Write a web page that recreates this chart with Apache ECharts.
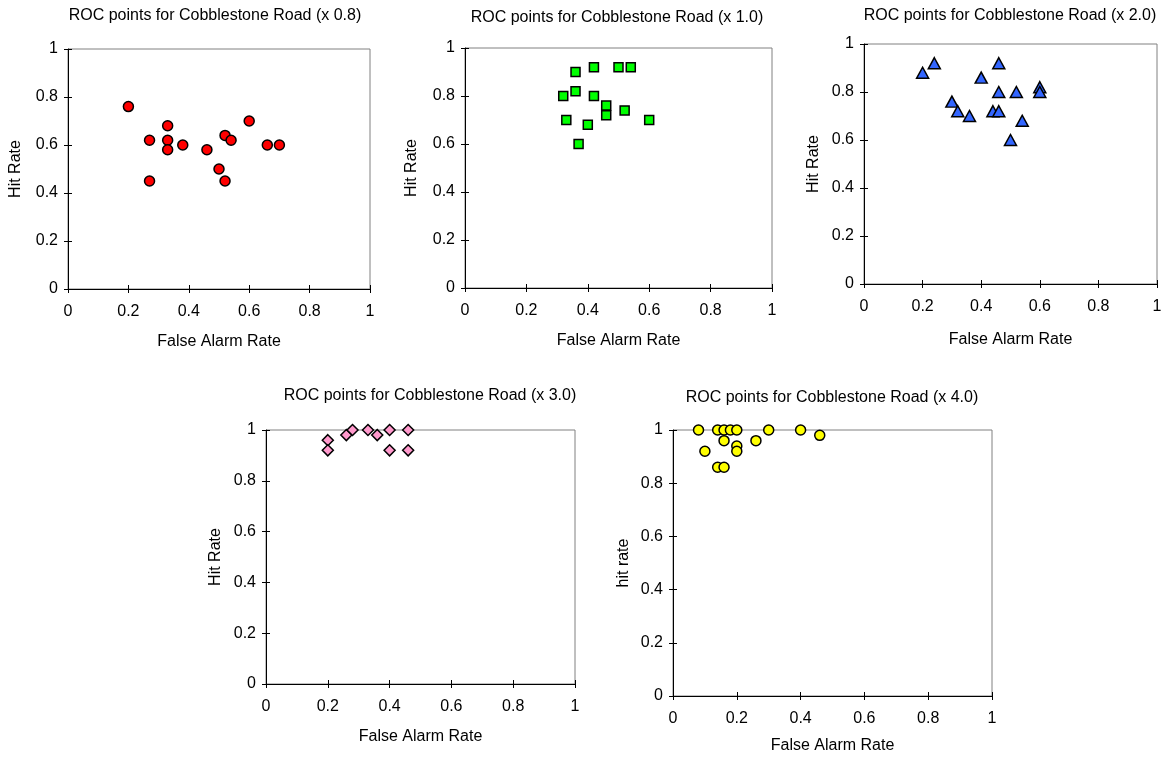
<!DOCTYPE html>
<html>
<head>
<meta charset="utf-8">
<script src="https://cdn.jsdelivr.net/npm/echarts@6/dist/echarts.min.js"></script>
<style>
html,body{margin:0;padding:0;background:#fff;}
#c{width:1172px;height:759px;}
</style>
</head>
<body>
<div id="c"></div>
<script>
// ---- data ----
const titles = [
  'ROC points for Cobblestone Road (x 0.8)',
  'ROC points for Cobblestone Road (x 1.0)',
  'ROC points for Cobblestone Road (x 2.0)',
  'ROC points for Cobblestone Road (x 3.0)',
  'ROC points for Cobblestone Road (x 4.0)'
];
const xName = 'False Alarm Rate';
const yNames = ['Hit Rate', 'Hit Rate', 'Hit Rate', 'Hit Rate', 'hit rate'];

const far08 = [0.20, 0.27, 0.27, 0.33, 0.33, 0.33, 0.38, 0.46, 0.50, 0.52, 0.52, 0.54, 0.60, 0.66, 0.70];
const hit08 = [0.76, 0.62, 0.45, 0.68, 0.62, 0.58, 0.60, 0.58, 0.50, 0.64, 0.45, 0.62, 0.70, 0.60, 0.60];

const far10 = [0.36, 0.42, 0.50, 0.54, 0.32, 0.36, 0.42, 0.46, 0.46, 0.52, 0.33, 0.40, 0.60, 0.37];
const hit10 = [0.90, 0.92, 0.92, 0.92, 0.80, 0.82, 0.80, 0.76, 0.72, 0.74, 0.70, 0.68, 0.70, 0.60];

const far20 = [0.20, 0.24, 0.46, 0.40, 0.46, 0.52, 0.60, 0.60, 0.30, 0.32, 0.36, 0.44, 0.46, 0.54, 0.50];
const hit20 = [0.88, 0.92, 0.92, 0.86, 0.80, 0.80, 0.82, 0.80, 0.76, 0.72, 0.70, 0.72, 0.72, 0.68, 0.60];

const far30 = [0.20, 0.20, 0.26, 0.28, 0.33, 0.36, 0.40, 0.46, 0.40, 0.46];
const hit30 = [0.96, 0.92, 0.98, 1.00, 1.00, 0.98, 1.00, 1.00, 0.92, 0.92];

const far40 = [0.08, 0.14, 0.16, 0.18, 0.20, 0.30, 0.40, 0.46, 0.16, 0.26, 0.10, 0.20, 0.20, 0.14, 0.16];
const hit40 = [1.00, 1.00, 1.00, 1.00, 1.00, 1.00, 1.00, 0.98, 0.96, 0.96, 0.92, 0.94, 0.92, 0.86, 0.86];

const farSets = [far08, far10, far20, far30, far40];
const hitSets = [hit08, hit10, hit20, hit30, hit40];

// ---- styles / layout ----
const FONT = 'Liberation Sans, Arial, sans-serif';
const FS = 16;
const layouts = [
  {left: 68,  top: 49,  width: 302, height: 240, tx: 215, ty: 15, yGap: 44, xGap: 45},
  {left: 465, top: 48,  width: 307, height: 240, tx: 617, ty: 17, yGap: 45, xGap: 45},
  {left: 864, top: 44,  width: 293, height: 240, tx: 1010, ty: 15, yGap: 42, xGap: 48},
  {left: 266, top: 430, width: 309, height: 254, tx: 430, ty: 395, yGap: 42, xGap: 45},
  {left: 673, top: 430, width: 319, height: 266, tx: 832, ty: 397, yGap: 41, xGap: 42}
];
const markers = [
  {symbol: 'circle',   size: 10,      color: '#FF0000'},
  {symbol: 'rect',     size: 9,       color: '#00FF00'},
  {symbol: 'triangle', size: [12, 11], color: '#3366FF'},
  {symbol: 'diamond',  size: [11, 11], color: '#FF99CC'},
  {symbol: 'circle',   size: 10,      color: '#FFFF00'}
];

const txt = {color: '#000', fontSize: FS, fontFamily: FONT};

const option = {
  animation: false,
  backgroundColor: '#fff',
  title: [], grid: [], xAxis: [], yAxis: [], series: []
};

layouts.forEach((L, i) => {
  option.title.push({
    text: titles[i], left: L.tx, top: L.ty - 7, textAlign: 'center', padding: 0,
    textStyle: {color: '#000', fontSize: FS, fontWeight: 'normal', fontFamily: FONT}
  });
  option.grid.push({
    left: L.left, top: L.top, width: L.width, height: L.height,
    show: true, borderColor: '#808080', borderWidth: 1, backgroundColor: 'transparent'
  });
  const baseX = {
    gridIndex: i, type: 'value', min: 0, max: 1, interval: 0.2, position: 'bottom',
    splitLine: {show: false}
  };
  const baseY = {
    gridIndex: i, type: 'value', min: 0, max: 1, interval: 0.2, position: 'left',
    splitLine: {show: false}
  };
  option.xAxis.push(Object.assign({}, baseX, {
    axisLine: {show: true, onZero: false, lineStyle: {color: '#000', width: 1}},
    axisTick: {show: true, length: 4, lineStyle: {color: '#000'}},
    axisLabel: Object.assign({margin: 15}, txt),
    name: xName, nameLocation: 'middle', nameGap: L.xGap, nameTextStyle: txt
  }));
  option.xAxis.push(Object.assign({}, baseX, {
    axisLine: {show: false},
    axisTick: {show: true, inside: true, length: 4, lineStyle: {color: '#000'}},
    axisLabel: {show: false}
  }));
  option.yAxis.push(Object.assign({}, baseY, {
    axisLine: {show: true, onZero: false, lineStyle: {color: '#000', width: 1}},
    axisTick: {show: true, length: 4, lineStyle: {color: '#000'}},
    axisLabel: Object.assign({margin: 10}, txt),
    name: yNames[i], nameLocation: 'middle', nameGap: L.yGap, nameTextStyle: txt
  }));
  option.yAxis.push(Object.assign({}, baseY, {
    axisLine: {show: false},
    axisTick: {show: true, inside: true, length: 4, lineStyle: {color: '#000'}},
    axisLabel: {show: false}
  }));
  const m = markers[i];
  option.series.push({
    type: 'scatter', xAxisIndex: 2 * i, yAxisIndex: 2 * i,
    symbol: m.symbol, symbolSize: m.size,
    itemStyle: {color: m.color, borderColor: '#000', borderWidth: 1.5, opacity: 1},
    data: farSets[i].map((x, k) => [x, hitSets[i][k]])
  });
});

const chart = echarts.init(document.getElementById('c'), null, {renderer: 'canvas'});
chart.setOption(option);
</script>
</body>
</html>
